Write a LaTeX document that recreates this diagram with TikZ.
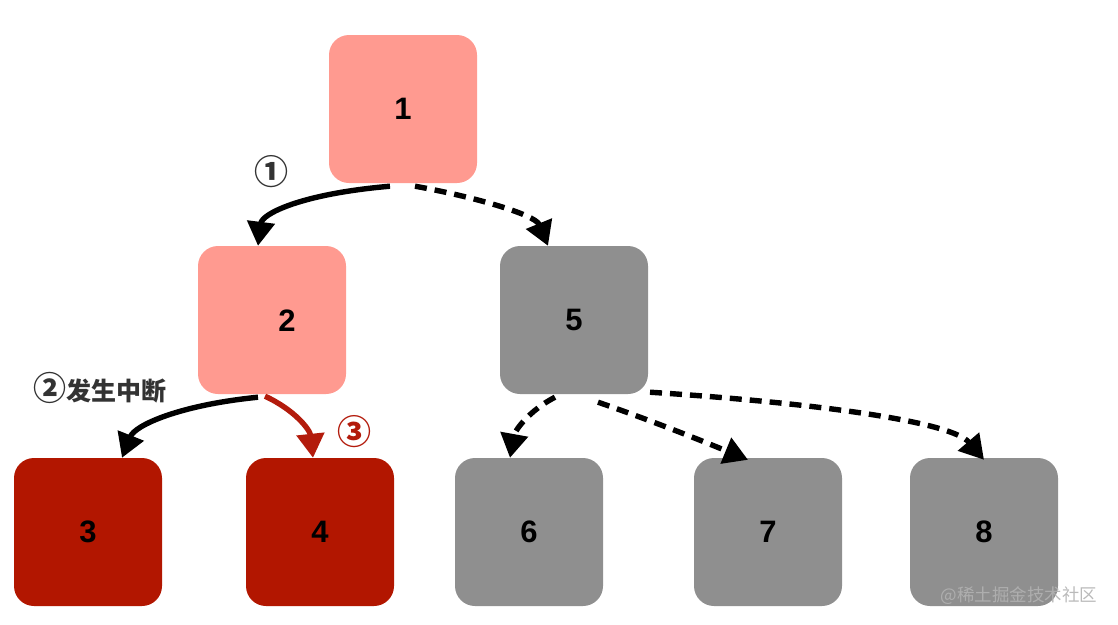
\documentclass[tikz,border=0pt]{standalone}
\usepackage{fontspec}
\setmainfont{Liberation Sans}
\newfontfamily\cjk{Noto Sans CJK SC}
\usetikzlibrary{arrows.meta,calc}
\definecolor{pinkbox}{HTML}{FF9A90}
\definecolor{redbox}{HTML}{B21600}
\definecolor{graybox}{HTML}{8F8F8F}
\definecolor{redarrow}{HTML}{B31B0C}
\definecolor{labeltext}{HTML}{333333}
\begin{document}
\begin{tikzpicture}[x=1pt,y=-1pt,
  box/.style={rounded corners=20pt, minimum width=148pt, minimum height=148pt, inner sep=0pt, font=\fontsize{31}{31}\selectfont\bfseries},
  pinknode/.style={box, fill=pinkbox},
  rednode/.style={box, fill=redbox},
  graynode/.style={box, fill=graybox},
  conn/.style={line width=5.4pt, -{Triangle[length=24pt,width=27pt]}},
  dashconn/.style={conn, dash pattern=on 12pt off 8pt},
  note/.style={font=\cjk\bfseries\fontsize{25}{25}\selectfont, text=labeltext, inner sep=0pt},
  circ/.style={font=\cjk\bfseries\fontsize{34}{34}\selectfont, text=labeltext, inner sep=0pt}
]
\useasboundingbox (0,0) rectangle (1118,624);
\node[pinknode] (n1) at (403,109) {1};
\node[pinknode] (n2) at (272,320) {};
\node[font=\fontsize{31}{31}\selectfont\bfseries] (t2) at (287,321) {2};
\node[graynode] (n5) at (574,320) {5};
\node[rednode] (n3) at (88,532) {3};
\node[rednode] (n4) at (320,532) {4};
\node[graynode] (n6) at (529,532) {6};
\node[graynode] (n7) at (768,532) {7};
\node[graynode] (n8) at (984,532) {8};

\node[circ] (l1) at (271,172) {①};
\node[note] (l2) at (100,388) {\fontsize{33}{33}\selectfont ②\fontsize{25}{25}\selectfont 发生中断};
\node[circ, text=redarrow] (l3) at (354,432) {③};
\node[font=\cjk\fontsize{17.5}{17.5}\selectfont, text=black!30, opacity=0.9, inner sep=0pt] (wm) at (1019,596) {@稀土掘金技术社区};

\draw[conn] ($(n1.south)+(-13,3)$) .. controls (300,194) and (262,214) .. ($(n2.north)+(-14,0)$);
\draw[dashconn] ($(n1.south)+(12,3)$) .. controls (470,196) and (535,214) .. ($(n5.north)+(-26,0)$);
\draw[conn] ($(n2.south)+(-14,3)$) .. controls (180,405) and (135,425) .. ($(n3.north)+(34,0)$);
\draw[conn, draw=redarrow] ($(n2.south)+(-7,2)$) .. controls (295,410) and (310,430) .. ($(n4.north)+(-7,0)$);
\draw[dashconn] ($(n5.south)+(-19,3)$) .. controls (530,410) and (515,430) .. ($(n6.north)+(-19,0)$);
\draw[dashconn] ($(n5.south)+(24,8)$) .. controls (650,420) and (700,440) .. ($(n7.north)+(-20,2)$);
\draw[dashconn] ($(n5.south)+(76,-2)$) .. controls (800,402) and (950,420) .. ($(n8.north)+(0,2)$);
\end{tikzpicture}
\end{document}
